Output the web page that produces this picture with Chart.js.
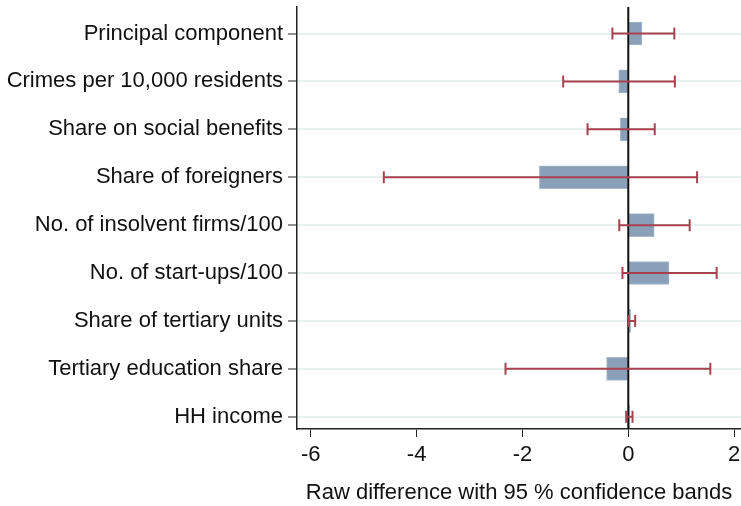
<!DOCTYPE html>
<html>
<head>
<meta charset="utf-8">
<script src="https://cdn.jsdelivr.net/npm/chart.js@4.4.1/dist/chart.umd.min.js"></script>
<style>
  html, body { margin: 0; padding: 0; background: #fff; }
  #wrap { width: 741px; height: 506px; position: relative; }
</style>
</head>
<body>
<div id="wrap"><canvas id="chart"></canvas></div>
<script>
// categories, top to bottom
const categories = [
    'Principal component',
    'Crimes per 10,000 residents',
    'Share on social benefits',
    'Share of foreigners',
    'No. of insolvent firms/100',
    'No. of start-ups/100',
    'Share of tertiary units',
    'Tertiary education share',
    'HH income'
];
// raw difference (bar) and 95% CI bounds
const diffs = [0.26, -0.18, -0.15, -1.68, 0.49, 0.77, 0.045, -0.41, 0.03];
const ciLow = [-0.30, -1.23, -0.77, -4.62, -0.17, -0.11, 0.01, -2.32, -0.04];
const ciHigh = [0.87, 0.88, 0.50, 1.30, 1.16, 1.67, 0.13, 1.55, 0.08];
const xTicks = [-6, -4, -2, 0, 2];

const FONT = 'Liberation Sans, Arial, Helvetica, sans-serif';

// zero line + error bars
const ciPlugin = {
    id: 'ciPlugin',
    afterDatasetsDraw(chart) {
        const ctx = chart.ctx;
        const xs = chart.scales.x, ys = chart.scales.y;
        const area = chart.chartArea;

        ctx.save();
        ctx.strokeStyle = '#111';
        ctx.lineWidth = 2;
        const x0 = xs.getPixelForValue(0);
        ctx.beginPath();
        ctx.moveTo(x0, area.top);
        ctx.lineTo(x0, area.bottom);
        ctx.stroke();

        ctx.strokeStyle = '#a8424e';
        ctx.lineWidth = 2;
        categories.forEach((c, i) => {
            const y = ys.getPixelForValue(i);
            const a = xs.getPixelForValue(ciLow[i]);
            const b = xs.getPixelForValue(ciHigh[i]);
            ctx.beginPath();
            ctx.moveTo(a, y); ctx.lineTo(b, y);
            ctx.moveTo(a, y - 6); ctx.lineTo(a, y + 6);
            ctx.moveTo(b, y - 6); ctx.lineTo(b, y + 6);
            ctx.stroke();
        });
        ctx.restore();
    }
};

new Chart(document.getElementById('chart').getContext('2d'), {
    type: 'bar',
    data: {
        datasets: [{
            data: diffs.map((v, i) => ({ x: v, y: i })),
            backgroundColor: '#8aa0b8',
            borderColor: '#a9bbcc',
            borderWidth: 1,
            borderSkipped: false,
            barThickness: 23
        }]
    },
    options: {
        indexAxis: 'y',
        responsive: true,
        maintainAspectRatio: false,
        animation: false,
        layout: { padding: { top: 7, right: 0, left: 0, bottom: 0 } },
        plugins: { legend: { display: false }, tooltip: { enabled: false } },
        scales: {
            x: {
                type: 'linear',
                min: -6.26,
                max: 2.13,
                afterBuildTicks: s => { s.ticks = xTicks.map(v => ({ value: v })); },
                afterFit: s => { s.height = 77; s.paddingLeft = 0; s.paddingRight = 0; },
                grid: { drawOnChartArea: false, drawTicks: true, tickLength: 8, tickColor: '#222', tickWidth: 1 },
                border: { display: true, color: '#222', width: 1.5 },
                ticks: { color: '#111', padding: 5, font: { family: FONT, size: 22 } },
                title: {
                    display: true,
                    text: 'Raw difference with 95 % confidence bands',
                    color: '#111',
                    padding: { top: 3, bottom: 0 },
                    font: { family: FONT, size: 22 }
                }
            },
            y: {
                type: 'linear',
                reverse: true,
                offset: false,
                min: -0.554,
                max: 8.256,
                afterBuildTicks: s => { s.ticks = categories.map((c, i) => ({ value: i })); },
                afterFit: s => { s.width = 297; s.paddingTop = 0; s.paddingBottom = 0; },
                grid: { offset: false, color: '#e8f0f2', lineWidth: 2, drawTicks: true, tickLength: 9, tickColor: '#222', tickWidth: 1 },
                border: { display: true, color: '#222', width: 1.5 },
                ticks: {
                    color: '#111',
                    padding: 5,
                    autoSkip: false,
                    font: { family: FONT, size: 22 },
                    callback: v => categories[v]
                }
            }
        }
    },
    plugins: [ciPlugin]
});
</script>
</body>
</html>
